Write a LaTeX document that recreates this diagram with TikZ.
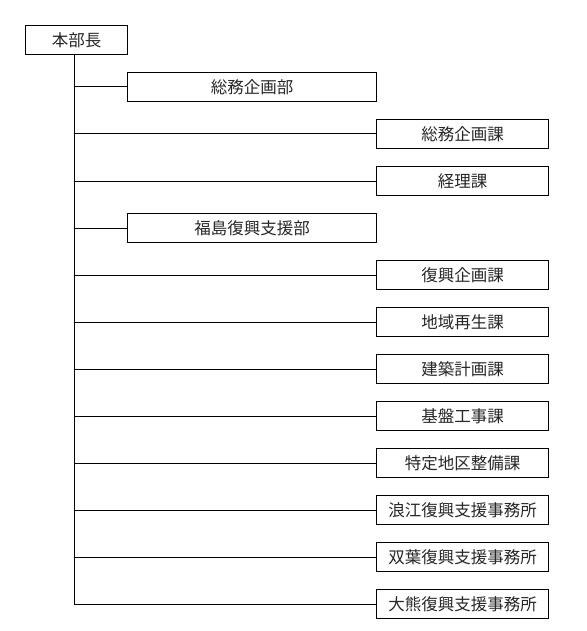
\documentclass[tikz,border=0pt]{standalone}
\usepackage{fontspec}
\setmainfont{Noto Sans CJK JP}
\begin{document}
\begin{tikzpicture}[x=1pt,y=-1pt,
  box/.style={draw=black, line width=1pt, inner sep=0pt, anchor=north west, font=\fontsize{16.5}{17}\selectfont, text=black!85},
  link/.style={draw=black, line width=1pt}]
\useasboundingbox (0,0) rectangle (586,631);
\node[box, minimum width=102pt, minimum height=29pt] (chief) at (25,25) {本部長};
\coordinate (top) at (74,54);
% departments
\node[box, minimum width=249pt, minimum height=29pt] (d1) at (127,72) {総務企画部};
\node[box, minimum width=249pt, minimum height=29pt] (d2) at (127,213) {福島復興支援部};
% sections
\foreach \n/\y/\t in {s1/119/総務企画課, s2/166/経理課, s3/260/復興企画課, s4/307/地域再生課, s5/354/建築計画課, s6/401/基盤工事課, s7/448/特定地区整備課, s8/495/浪江復興支援事務所, s9/542/双葉復興支援事務所, s10/589/大熊復興支援事務所}{
  \node[box, minimum width=172pt, minimum height=29pt] (\n) at (376,\y) {\t};
}
\foreach \n in {d1,d2,s1,s2,s3,s4,s5,s6,s7,s8,s9,s10}{
  \draw[link] (\n.west) -- (\n.west -| top);
}
\coordinate (bottom) at (74,603.5);
\draw[link] (top) -- (bottom);
\end{tikzpicture}
\end{document}
